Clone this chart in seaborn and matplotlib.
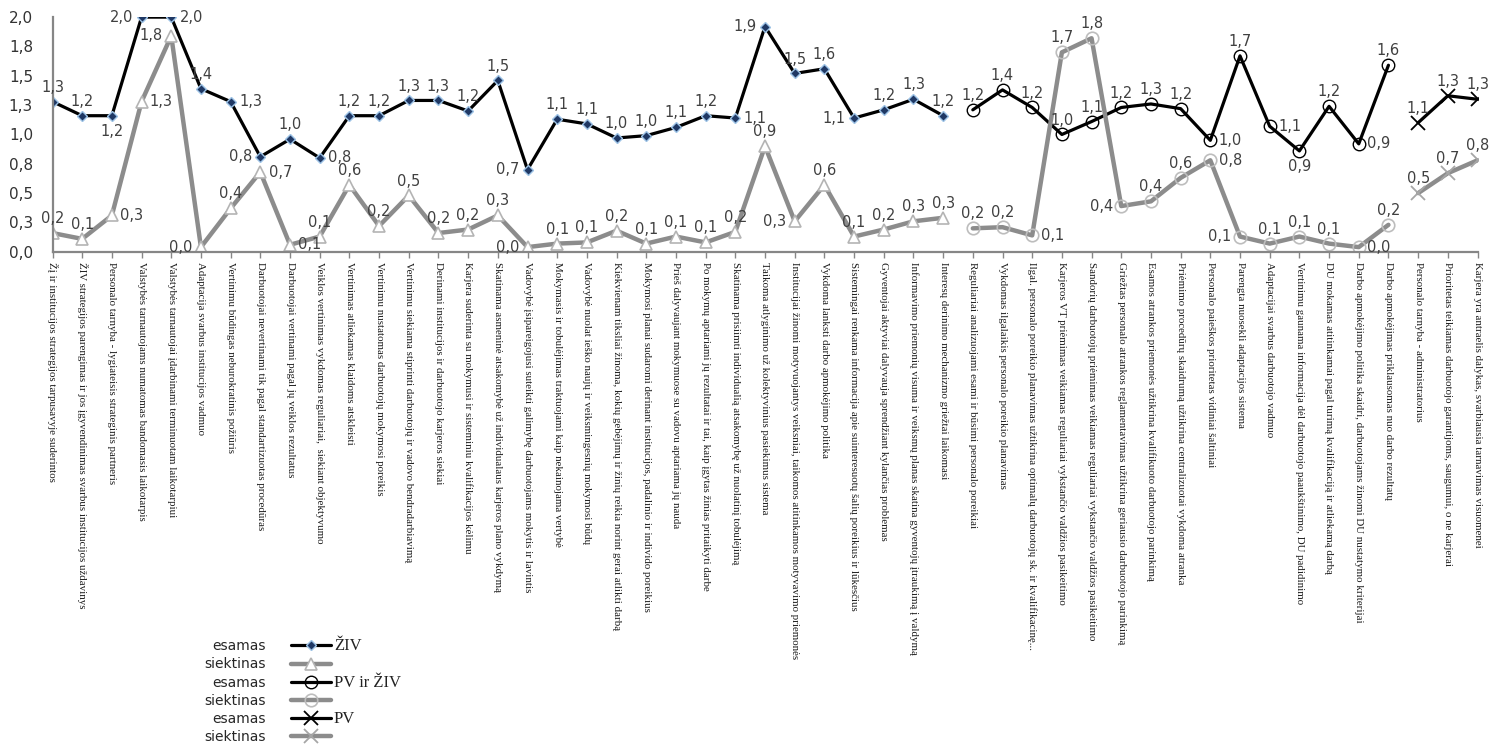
import math
import numpy as np
import matplotlib
matplotlib.use('Agg')
import matplotlib.pyplot as plt
import seaborn as sns
from matplotlib.lines import Line2D

# --- data ---
categories = [
    "Žį ir institucijos strategijos tarpusavyje suderintos",
    "ŽIV strategijos parengimas ir jos įgyvendinimas svarbus institucijos uždavinys",
    "Personalo tarnyba - lygiateisis strateginis partneris",
    "Valstybės tarnautojams numatomas bandomasis laikotarpis",
    "Valstybės tarnautojai įdarbinami terminuotam laikotarpiui",
    "Adaptacija svarbus institucijos vadmuo",
    "Vertinimu būdingas neburokratinis požiūris",
    "Darbuotojai nevertinami tik pagal standartizuotas procedūras",
    "Darbuotojai vertinami pagal jų veiklos rezultatus",
    "Veiklos vertinimas vykdomas reguliariai,  siekiant objektyvumo",
    "Vertinimas atliekamas klaidoms atskleisti",
    "Vertinimu nustatomas darbuotojų mokymosi poreikis",
    "Vertinimu siekiama stiprinti darbuotojų ir vadovo bendradarbiavimą",
    "Derinami institucijos ir darbuotojo karjeros siekiai",
    "Karjera suderinta su mokymusi ir sisteminiu kvalifikacijos kėlimu",
    "Skatinama asmeninė atsakomybė už individualaus karjeros plano vykdymą",
    "Vadovybė įsipareigojusi suteikti galimybę darbuotojams mokytis ir lavintis",
    "Mokymasis ir tobulėjimas traktuojami kaip nekainojama vertybė",
    "Vadovybė nuolat ieško naujų ir veiksmingesnių mokymosi būdų",
    "Kiekvienam tiksliai žinoma, kokių gebėjimų ir žinių reikia norint gerai atlikti darbą",
    "Mokymosi planai sudaromi derinant institucijos, padalinio ir individo poreikius",
    "Prieš dalyvaujant mokymuose su vadovu aptariama jų nauda",
    "Po mokymų aptariami jų rezultatai ir tai, kaip įgytas žinias pritaikyti darbe",
    "Skatinama prisiimti individualią atsakomybę už nuolatinį tobulėjimą",
    "Taikoma atlyginimo už kolektyvinius pasiekimus sistema",
    "Institucijai žinomi motyvuojantys veiksniai, taikomos atitinkamos motyvavimo priemonės",
    "Vykdoma lanksti darbo apmokėjimo politika",
    "Sistemingai renkama informacija apie suinteresuotų šalių poreikius ir lūkesčius",
    "Gyventojai aktyviai dalyvauja sprendžiant kylančias problemas",
    "Informavimo priemonių visuma ir veiksmų planas skatina gyventojų įtraukimą į valdymą",
    "Interesų derinimo mechanizmo griežtai laikomasi",
    "Reguliariai analizuojami esami ir būsimi personalo poreikiai",
    "Vykdomas ilgalaikis personalo poreikio planavimas",
    "Ilgal. personalo poreikio planavimas užtikrina optimalų darbuotojų sk. ir kvalifikacinę...",
    "Karjeros VT priėmimas veikiamas reguliariai vykstančio valdžios pasikeitimo",
    "Sandorių darbuotojų priėmimas veikiamas reguliariai vykstančio valdžios pasikeitimo",
    "Griežtas personalo atrankos reglamentavimas užtikrina geriausio darbuotojo parinkimą",
    "Esamos atrankos priemonės užtikrina kvalifikuoto darbuotojo parinkimą",
    "Priėmimo procedūrų skaidrumą užtikrina centralizuotai vykdoma atranka",
    "Personalo paieškos prioritetas vidiniai šaltiniai",
    "Parengta nuosekli adaptacijos sistema",
    "Adaptacijai svarbus darbuotojo vadmuo",
    "Vertinimu gaunama informacija dėl darbuotojo paaukštinimo, DU padidinimo",
    "DU mokamas atitinkamai pagal turimą kvalifikaciją ir atliekamą darbą",
    "Darbo apmokėjimo politika skaidri, darbuotojams žinomi DU nustatymo kriterijai",
    "Darbo apmokėjimas priklausomas nuo darbo rezultatų",
    "Personalo tarnyba - administratorius",
    "Prioritetas teikiamas darbuotojo garantijoms, saugumui, o ne karjerai",
    "Karjera yra antraelis dalykas, svarbiausia tarnavimas visuomenei",
]

ziv_esamas = [1.28, 1.16, 1.16, 2.00, 2.00, 1.39, 1.28, 0.81, 0.96, 0.80,
              1.16, 1.16, 1.29, 1.29, 1.20, 1.46, 0.70, 1.13, 1.09, 0.97,
              0.99, 1.06, 1.16, 1.14, 1.92, 1.52, 1.56, 1.14, 1.21, 1.30, 1.16]
ziv_siektinas = [0.16, 0.11, 0.31, 1.28, 1.84, 0.04, 0.37, 0.68, 0.06, 0.13,
                 0.57, 0.22, 0.48, 0.16, 0.19, 0.31, 0.04, 0.07, 0.08, 0.18,
                 0.07, 0.13, 0.08, 0.17, 0.90, 0.26, 0.57, 0.13, 0.19, 0.26, 0.29]
pvziv_esamas = [1.21, 1.38, 1.23, 1.00, 1.11, 1.23, 1.26, 1.22, 0.95, 1.67,
                1.07, 0.86, 1.24, 0.92, 1.59]
pvziv_siektinas = [0.20, 0.21, 0.14, 1.70, 1.82, 0.39, 0.43, 0.63, 0.78, 0.13,
                   0.07, 0.13, 0.07, 0.04, 0.23]
pv_esamas = [1.10, 1.33, 1.30]
pv_siektinas = [0.50, 0.67, 0.78]

series_names = ["ŽIV", "PV ir ŽIV", "PV"]
row_labels = ["esamas", "siektinas"]

# data label placement: a=above, b=below, l=left, r=right
ziv_esamas_pos = "aablrarlaraaaaaalaaaaaarlaalaaa"
ziv_siektinas_pos = "aarrllarraaaaaaalaaaaaaaalaaaaa"
pvziv_esamas_pos = "aaaaaaaararbara"
pvziv_siektinas_pos = "aaraalaarlaaara"
pv_esamas_pos = "aaa"
pv_siektinas_pos = "aaa"

GRAY = '#8c8c8c'
AXIS = '#868686'
LABEL_C = '#404040'


def fmt(v):
    return f"{math.floor(v * 10 + 0.5 + 1e-9) / 10:.1f}".replace('.', ',')


sns.set_style('white')
plt.rcParams['font.family'] = ['DejaVu Sans']

fig, ax = plt.subplots(figsize=(15, 7.45), dpi=100)
fig.subplots_adjust(left=0.035, right=0.985, top=0.977, bottom=0.662)

n1 = len(ziv_esamas)
n2 = len(pvziv_esamas)
x_ziv = np.arange(0, n1)
x_pvziv = np.arange(n1, n1 + n2)
x_pv = np.arange(n1 + n2, len(categories))

styles = {
    'ziv_e': dict(color='black', lw=2.3, marker='D', ms=5, mfc='#1f3864', mec='#9dc3e6', mew=1.0),
    'ziv_s': dict(color=GRAY, lw=3.2, marker='^', ms=9, mfc='white', mec='#b4b4b4', mew=1.2),
    'pvziv_e': dict(color='black', lw=2.3, marker='o', ms=9, mfc='none', mec='black', mew=1.0),
    'pvziv_s': dict(color=GRAY, lw=3.2, marker='o', ms=9, mfc='none', mec='#bdbdbd', mew=1.2),
    'pv_e': dict(color='black', lw=2.3, marker='x', ms=10, mec='black', mew=1.3),
    'pv_s': dict(color=GRAY, lw=3.2, marker='x', ms=10, mec='#a6a6a6', mew=1.3),
}

plots = [
    (x_ziv, ziv_esamas, 'ziv_e', ziv_esamas_pos),
    (x_ziv, ziv_siektinas, 'ziv_s', ziv_siektinas_pos),
    (x_pvziv, pvziv_esamas, 'pvziv_e', pvziv_esamas_pos),
    (x_pvziv, pvziv_siektinas, 'pvziv_s', pvziv_siektinas_pos),
    (x_pv, pv_esamas, 'pv_e', pv_esamas_pos),
    (x_pv, pv_siektinas, 'pv_s', pv_siektinas_pos),
]

OFF = {
    'a': ((0, 5), 'center', 'bottom'),
    'b': ((0, -6), 'center', 'top'),
    'l': ((-6, 0), 'right', 'center'),
    'r': ((6, 0), 'left', 'center'),
}

for xs, ys, key, pos in plots:
    sns.lineplot(x=xs, y=ys, ax=ax, legend=False, **styles[key])
    for xv, yv, p in zip(xs, ys, pos):
        off, ha, va = OFF[p]
        ax.annotate(fmt(yv), (xv, yv), xytext=off, textcoords='offset points',
                    ha=ha, va=va, fontsize=10.5, color=LABEL_C)

ax.set_xlim(0, len(categories) - 1)
ax.set_ylim(0, 2.0)
yt = np.arange(0, 2.01, 0.25)
ax.set_yticks(yt)
ax.set_yticklabels([fmt(v) for v in yt], fontsize=11, color='#333333')
ax.set_xticks(range(len(categories)))
ax.set_xticklabels(categories, rotation=-90, ha='center', va='top',
                   fontsize=7.8, family='Liberation Serif', color='#1a1a1a')
ax.tick_params(axis='x', length=4, width=1, color=AXIS, pad=3, bottom=True)
ax.tick_params(axis='y', length=0, pad=14)
for s in ['top', 'right']:
    ax.spines[s].set_visible(False)
for s in ['left', 'bottom']:
    ax.spines[s].set_color(AXIS)
    ax.spines[s].set_linewidth(1.6)
ax.set_xlabel('')
ax.set_ylabel('')

# legend: "esamas / siektinas" rows with line samples, series names to the right
keys = ['ziv_e', 'ziv_s', 'pvziv_e', 'pvziv_s', 'pv_e', 'pv_s']
handles = [Line2D([], [], **styles[k]) for k in keys]
leg = fig.legend(handles, row_labels * 3, loc='upper left',
                 bbox_to_anchor=(0.136, 0.142), frameon=False, markerfirst=False,
                 handlelength=2.9, labelspacing=0.3, borderpad=0, borderaxespad=0,
                 handletextpad=1.8, fontsize=10)

fig.canvas.draw()
inv = fig.transFigure.inverted()
leg_bb = leg.get_window_extent()
for i, name in enumerate(series_names):
    tb = leg.get_texts()[2 * i].get_window_extent()
    xf, yf = inv.transform((leg_bb.x1 + 3, (tb.y0 + tb.y1) / 2))
    fig.text(xf, yf, name, ha='left', va='center', fontsize=12,
             family='Liberation Serif', color='#222222')

fig.savefig('out.png', dpi=100)
